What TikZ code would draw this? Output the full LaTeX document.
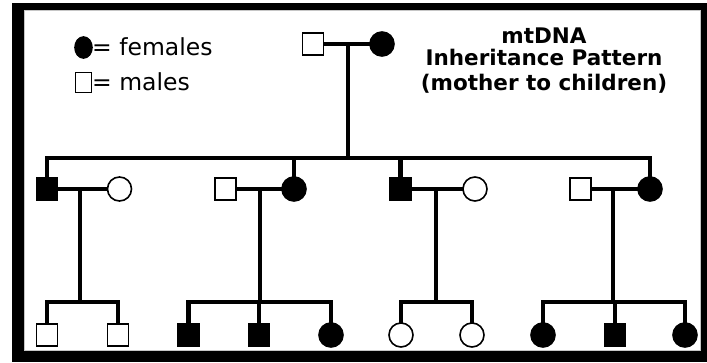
\documentclass[tikz,border=0pt]{standalone}
\usepackage{fontspec}
\setmainfont{DejaVu Sans}
\usetikzlibrary{shapes.geometric}
\begin{document}
\begin{tikzpicture}[x=1pt,y=-1pt,
  conn/.style={line width=4.4pt},
  sym/.style={draw=black,line width=1.6pt,inner sep=0pt,outer sep=0pt},
  male/.style={sym,rectangle,minimum width=21pt,minimum height=22pt},
  fem/.style={sym,circle,minimum size=24pt},
  aff/.style={fill=black},
  legtext/.style={font=\fontsize{23.5}{26}\selectfont,inner sep=0pt,anchor=base west},
  titletext/.style={font=\fontsize{21.5}{24}\selectfont\bfseries,inner sep=0pt,anchor=base}]
\useasboundingbox (0,0) rectangle (707,362);
% frame
\fill[black] (12,3) rectangle (707,362);
\filldraw[fill=white,draw=gray!45,line width=0.8pt] (24,10) rectangle (700,350);

% legend
\node[sym,aff,ellipse,minimum width=17pt,minimum height=21pt] (lf) at (83.5,47.5) {};
\node[legtext] (lft) at (92,55) {= females};
\node[sym,rectangle,minimum width=16pt,minimum height=20pt] (lm) at (83.5,82.5) {};
\node[legtext] (lmt) at (92,90) {= males};

% title
\node[titletext] (t1) at (544,43) {mtDNA};
\node[titletext] (t2) at (544,65) {Inheritance Pattern};
\node[titletext] (t3) at (544,90) {(mother to children)};

% generation 0
\node[male] (M0) at (313,44) {};
\node[fem,aff] (F0) at (382,44) {};
\coordinate (d0) at (348,44);
\coordinate (g) at (348,158);

% generation 1
\node[male,aff] (M1) at (47,189) {};
\node[fem] (W1) at (119.5,189) {};
\node[male] (M2) at (225.5,189) {};
\node[fem,aff] (F2) at (294,189) {};
\node[male,aff] (M3) at (400.5,189) {};
\node[fem] (W3) at (475,189) {};
\node[male] (M4) at (580.5,189) {};
\node[fem,aff] (F4) at (650,189) {};

\coordinate (d1) at (80,189);  \coordinate (b1) at (80,302);
\coordinate (d2) at (260,189); \coordinate (b2) at (260,302);
\coordinate (d3) at (436,189); \coordinate (b3) at (436,302);
\coordinate (d4) at (613,189); \coordinate (b4) at (613,302);

% generation 2
\node[male] (k11) at (47,335) {};
\node[male] (k12) at (118,335) {};
\node[male,aff] (k21) at (188.5,335) {};
\node[male,aff] (k22) at (259,335) {};
\node[fem,aff] (k23) at (331,335) {};
\node[fem] (k31) at (401,335) {};
\node[fem] (k32) at (472,335) {};
\node[fem,aff] (k41) at (543,335) {};
\node[male,aff] (k42) at (615,335) {};
\node[fem,aff] (k43) at (685,335) {};

% connectors
\draw[conn] (M0) -- (F0);
\draw[conn] (d0) -- (g);
\draw[conn] (M1.north) |- (g) -| (F4.north);
\draw[conn] (F2.north) -- (F2.north |- g);
\draw[conn] (M3.north) -- (M3.north |- g);

\draw[conn] (M1) -- (W1);
\draw[conn] (M2) -- (F2);
\draw[conn] (M3) -- (W3);
\draw[conn] (M4) -- (F4);

\draw[conn] (d1) -- (b1);
\draw[conn] (d2) -- (b2);
\draw[conn] (d3) -- (b3);
\draw[conn] (d4) -- (b4);

\draw[conn] (k11.north) |- (b1) -| (k12.north);
\draw[conn] (k21.north) |- (b2) -| (k23.north);
\draw[conn] (k22.north) -- (k22.north |- b2);
\draw[conn] (k31.north) |- (b3) -| (k32.north);
\draw[conn] (k41.north) |- (b4) -| (k43.north);
\draw[conn] (k42.north) -- (k42.north |- b4);
\end{tikzpicture}
\end{document}
